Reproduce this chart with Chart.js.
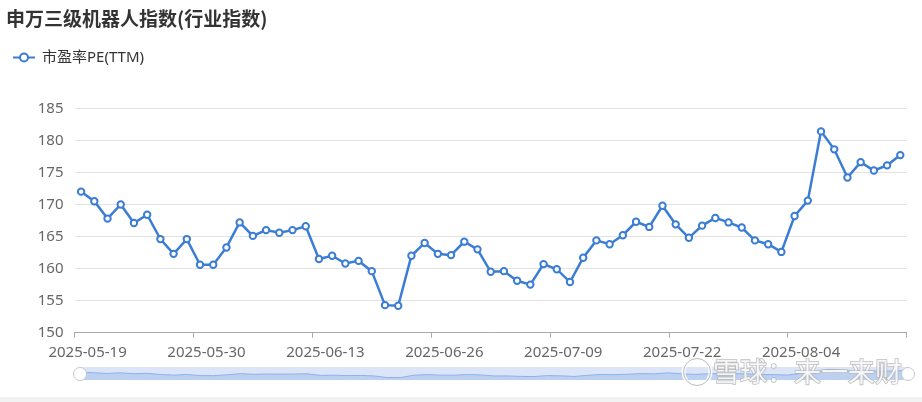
<!DOCTYPE html>
<html>
<head>
<meta charset="utf-8">
<script src="https://cdn.jsdelivr.net/npm/chart.js@4/dist/chart.umd.min.js"></script>
<style>
  html, body { margin: 0; padding: 0; background: #fff; }
  #wrap { position: relative; width: 922px; height: 402px; }
</style>
</head>
<body>
<div id="wrap"><canvas id="peChart" width="922" height="402"></canvas></div>
<script>
var chartTitle = "申万三级机器人指数(行业指数)";
var seriesName = "市盈率PE(TTM)";
var watermark = "雪球：来一来财";

var dates = [
  "2025-05-19","2025-05-20","2025-05-21","2025-05-22","2025-05-23",
  "2025-05-26","2025-05-27","2025-05-28","2025-05-29","2025-05-30",
  "2025-06-03","2025-06-04","2025-06-05","2025-06-06",
  "2025-06-09","2025-06-10","2025-06-11","2025-06-12","2025-06-13",
  "2025-06-16","2025-06-17","2025-06-18","2025-06-19","2025-06-20",
  "2025-06-23","2025-06-24","2025-06-25","2025-06-26","2025-06-27",
  "2025-06-30","2025-07-01","2025-07-02","2025-07-03","2025-07-04",
  "2025-07-07","2025-07-08","2025-07-09","2025-07-10","2025-07-11",
  "2025-07-14","2025-07-15","2025-07-16","2025-07-17","2025-07-18",
  "2025-07-21","2025-07-22","2025-07-23","2025-07-24","2025-07-25",
  "2025-07-28","2025-07-29","2025-07-30","2025-07-31","2025-08-01",
  "2025-08-04","2025-08-05","2025-08-06","2025-08-07","2025-08-08",
  "2025-08-11","2025-08-12","2025-08-13","2025-08-14"
];

var peValues = [
  172.0,170.5,167.8,170.0,167.1,168.4,164.6,162.3,164.6,160.6,
  160.6,163.3,167.2,165.1,166.0,165.6,166.0,166.6,161.5,162.0,
  160.8,161.2,159.6,154.3,154.2,162.0,164.0,162.3,162.1,164.2,
  163.0,159.5,159.6,158.1,157.5,160.7,159.9,157.9,161.7,164.4,
  163.8,165.2,167.3,166.5,169.8,166.9,164.8,166.7,167.9,167.2,
  166.4,164.4,163.8,162.6,168.2,170.6,181.4,178.6,174.2,176.6,
  175.3,176.1,177.7
];

var xTickLabels = ["2025-05-19","2025-05-30","2025-06-13","2025-06-26","2025-07-09","2025-07-22","2025-08-04"];
var yMin = 150, yMax = 185, yStep = 5;

var lineColor = "#3b7dd4";
var uiFont = '"Noto Sans", "Noto Sans CJK SC", sans-serif';

// title, legend, slider and watermark drawn at fixed spots
var decorPlugin = {
  id: "decor",
  beforeDraw: function(chart) {
    var ctx = chart.ctx;
    ctx.save();
    ctx.fillStyle = "#f2f2f2";
    ctx.fillRect(0, 397, chart.width, 5);
    ctx.restore();
  },
  afterDraw: function(chart) {
    var ctx = chart.ctx;
    ctx.save();

    ctx.fillStyle = "#333";
    ctx.font = 'bold 19px "Noto Sans CJK SC", sans-serif';
    ctx.textBaseline = "middle";
    ctx.textAlign = "left";
    ctx.fillText(chartTitle, 6, 19);

    // legend
    ctx.strokeStyle = lineColor;
    ctx.lineWidth = 2;
    ctx.beginPath();
    ctx.moveTo(13, 57.5);
    ctx.lineTo(35, 57.5);
    ctx.stroke();
    ctx.beginPath();
    ctx.arc(24, 57.5, 4, 0, Math.PI * 2);
    ctx.fillStyle = "#fff";
    ctx.fill();
    ctx.stroke();
    ctx.fillStyle = "#333";
    ctx.font = '15px ' + uiFont;
    ctx.fillText(seriesName, 42, 58);

    // data zoom slider
    var sx0 = 80, sx1 = 908, sy0 = 367, sy1 = 380;
    ctx.fillStyle = "#dbe5f7";
    ctx.fillRect(sx0, sy0, sx1 - sx0, sy1 - sy0);
    var lo = Math.min.apply(null, peValues), hi = Math.max.apply(null, peValues);
    var pad = (hi - lo) * 0.3;
    lo -= pad; hi += pad;
    var n = peValues.length;
    ctx.beginPath();
    for (var i = 0; i < n; i++) {
      var px = sx0 + i * (sx1 - sx0) / (n - 1);
      var py = sy1 - (peValues[i] - lo) / (hi - lo) * (sy1 - sy0);
      if (i === 0) ctx.moveTo(px, py); else ctx.lineTo(px, py);
    }
    ctx.strokeStyle = "#8eafe8";
    ctx.lineWidth = 1;
    ctx.stroke();
    ctx.lineTo(sx1, sy1);
    ctx.lineTo(sx0, sy1);
    ctx.closePath();
    ctx.fillStyle = "rgba(150,183,236,0.45)";
    ctx.fill();
    [sx0, sx1].forEach(function(hx) {
      ctx.beginPath();
      ctx.arc(hx, 374, 6.5, 0, Math.PI * 2);
      ctx.fillStyle = "#fff";
      ctx.fill();
      ctx.strokeStyle = "#c8c8c8";
      ctx.lineWidth = 1;
      ctx.stroke();
    });

    // watermark
    ctx.globalAlpha = 0.85;
    ctx.beginPath();
    ctx.arc(697, 372, 13.5, 0, Math.PI * 2);
    ctx.lineWidth = 4;
    ctx.strokeStyle = "#fff";
    ctx.stroke();
    ctx.lineWidth = 1;
    ctx.strokeStyle = "#b0b0b0";
    ctx.stroke();
    ctx.font = '27px "Noto Sans CJK SC", sans-serif';
    ctx.textBaseline = "middle";
    ctx.lineWidth = 1.6;
    ctx.strokeStyle = "#b4b4b4";
    ctx.fillStyle = "#fff";
    ctx.strokeText(watermark, 713, 372);
    ctx.fillText(watermark, 713, 372);
    ctx.restore();
  }
};

new Chart(document.getElementById("peChart").getContext("2d"), {
  type: "line",
  data: {
    labels: dates,
    datasets: [{
      label: seriesName,
      data: peValues,
      borderColor: lineColor,
      borderWidth: 2.5,
      backgroundColor: "#fff",
      pointBackgroundColor: "#fff",
      pointBorderColor: lineColor,
      pointBorderWidth: 2,
      pointRadius: 3.2,
      tension: 0
    }]
  },
  options: {
    responsive: false,
    animation: false,
    layout: { padding: { top: 108.3, left: 0, right: 15.1, bottom: 39.3 } },
    plugins: {
      legend: { display: false },
      title: { display: false },
      tooltip: { enabled: false }
    },
    scales: {
      x: {
        offset: true,
        afterFit: function(scale) { scale.height = 30; },
        border: { display: true, color: "#aaa", width: 1 },
        grid: {
          offset: true,
          drawOnChartArea: false,
          drawTicks: true,
          tickLength: 5,
          color: function(c) {
            if (c.index === undefined || c.index % 9 === 0) return "#aaa";
            return "rgba(0,0,0,0)";
          }
        },
        ticks: {
          autoSkip: false,
          maxRotation: 0,
          labelOffset: 6.5,
          padding: 6,
          color: "#666",
          font: { family: uiFont, size: 15 },
          callback: function(val, idx) {
            var d = dates[idx];
            return xTickLabels.indexOf(d) >= 0 ? d : "";
          }
        }
      },
      y: {
        min: yMin,
        max: yMax,
        afterFit: function(scale) { scale.width = 74.5; },
        border: { display: false },
        grid: { color: "#e3e3e3", drawTicks: false },
        ticks: {
          stepSize: yStep,
          padding: 11,
          color: "#666",
          font: { family: uiFont, size: 15 }
        }
      }
    }
  },
  plugins: [decorPlugin]
});
</script>
</body>
</html>
